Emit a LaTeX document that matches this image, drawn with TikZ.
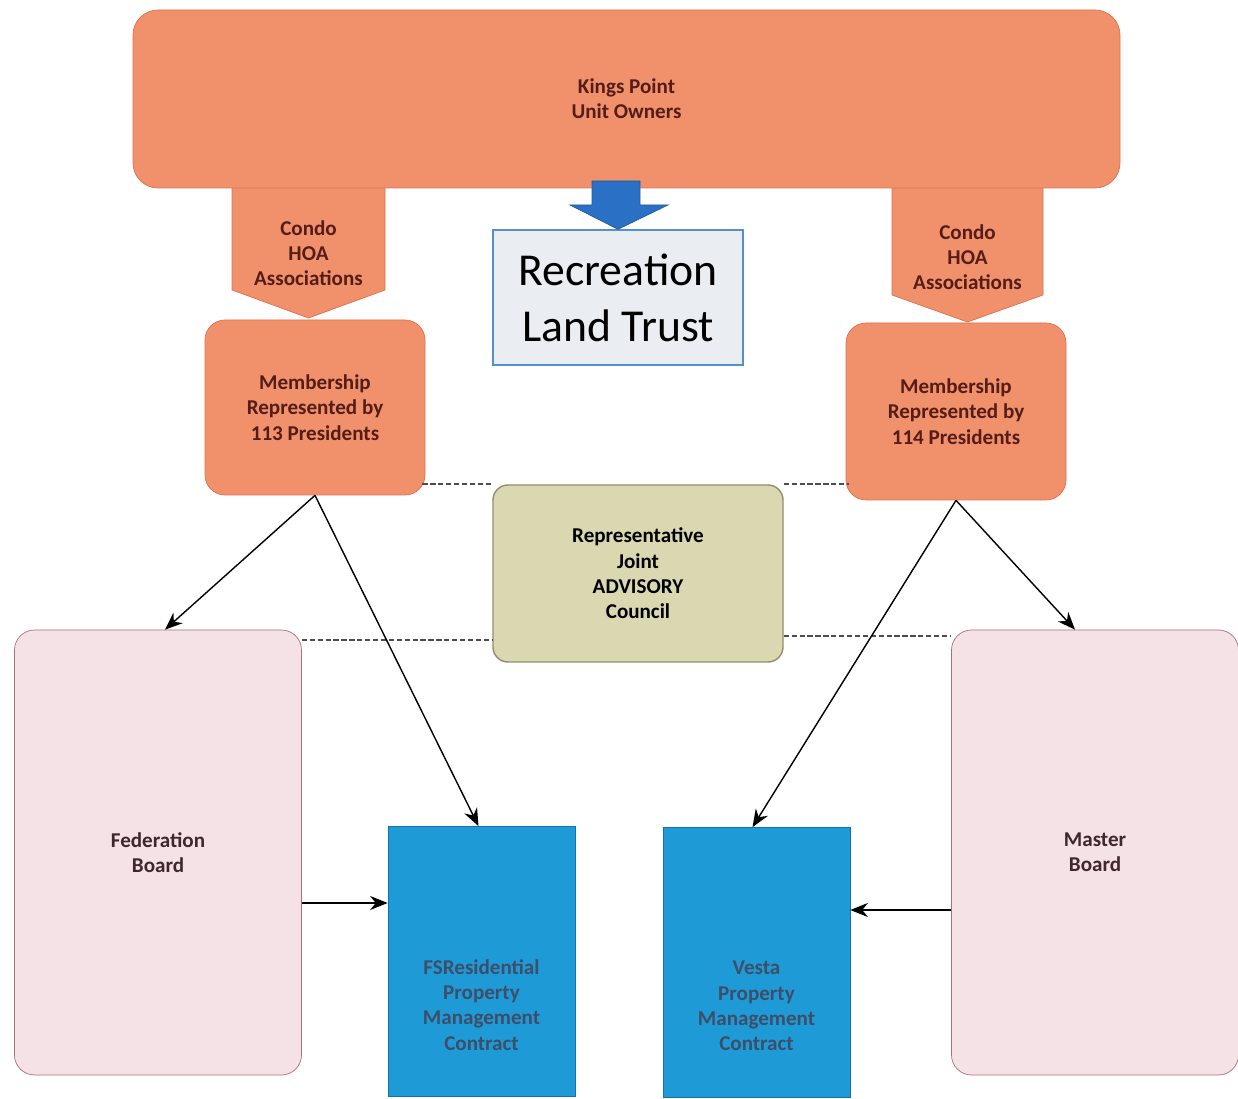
\documentclass[tikz,border=0pt]{standalone}
\usepackage{fontspec}
\setmainfont{Carlito}
\usepackage{xcolor}
\usetikzlibrary{shapes,arrows.meta,positioning,backgrounds}

\definecolor{ownerfill}{RGB}{240,145,108}
\definecolor{ownerline}{RGB}{222,112,78}
\definecolor{ownertext}{RGB}{85,28,24}
\definecolor{trustblue}{RGB}{42,112,196}
\definecolor{trustfill}{RGB}{234,238,243}
\definecolor{trustline}{RGB}{86,144,204}
\definecolor{councilfill}{RGB}{218,216,176}
\definecolor{councilline}{RGB}{145,140,112}
\definecolor{boardfill}{RGB}{244,226,230}
\definecolor{boardline}{RGB}{172,112,122}
\definecolor{boardtext}{RGB}{62,40,46}
\definecolor{pmfill}{RGB}{30,155,215}
\definecolor{pmline}{RGB}{22,112,172}
\definecolor{pmtext}{RGB}{62,78,104}

\begin{document}
\begin{tikzpicture}[
  box/.style={rectangle, draw, align=center, font=\bfseries\fontsize{12}{14.4}\selectfont},
  orangebox/.style={box, fill=ownerfill, draw=ownerline, text=ownertext, rounded corners=0.4cm},
  chevron/.style={fill=ownerfill, draw=ownerline},
  board/.style={box, fill=boardfill, draw=boardline, text=boardtext, rounded corners=0.4cm, minimum width=5.74cm, minimum height=8.9cm},
  pmbox/.style={box, fill=pmfill, draw=pmline, minimum width=3.74cm, minimum height=5.4cm},
  pmlabel/.style={align=center, text=pmtext, font=\bfseries\fontsize{12}{14.4}\selectfont},
  arrow/.style={-{Stealth[length=10pt,width=8pt]},thick},
  dashline/.style={draw=black!70, dash pattern=on 3pt off 1.5pt, line width=1pt}
]
\useasboundingbox (0,0) rectangle (24.76,-21.98);

% Condo HOA chevrons (under the top box)
\draw[chevron] (4.64,-3.6) -- (7.70,-3.6) -- (7.70,-5.8) -- (6.17,-6.36) -- (4.64,-5.8) -- cycle;
\draw[chevron] (17.84,-3.6) -- (20.86,-3.6) -- (20.86,-5.9) -- (19.35,-6.44) -- (17.84,-5.9) -- cycle;
\node[box, draw=none, text=ownertext] (condoL) at (6.17,-5.06) {Condo\\HOA\\Associations};
\node[box, draw=none, text=ownertext] (condoR) at (19.35,-5.14) {Condo\\HOA\\Associations};

% Owners
\node[orangebox, rounded corners=0.5cm, minimum width=19.74cm, minimum height=3.56cm] (owners) at (12.53,-1.98) {Kings Point\\Unit Owners};

% Trust
\node[box, fill=trustfill, draw=trustline, thick, font=\fontsize{26}{32}\selectfont, minimum width=5cm, minimum height=2.7cm] (trust) at (12.36,-5.95) {Recreation\\Land Trust};
\draw[fill=trustblue, draw=trustblue!80!black] (11.84,-3.62) -- (12.80,-3.62) -- (12.80,-4.1) -- (13.36,-4.1)
  -- (trust.north) -- (11.4,-4.1) -- (11.84,-4.1) -- cycle;

% Membership
\node[orangebox, minimum width=4.4cm, minimum height=3.5cm] (memL) at (6.3,-8.15) {Membership\\Represented by\\113 Presidents};
\node[orangebox, minimum width=4.4cm, minimum height=3.54cm] (memR) at (19.12,-8.23) {Membership\\Represented by\\114 Presidents};

% Council
\node[box, fill=councilfill, draw=councilline, thick, rounded corners=0.3cm, minimum width=5.8cm, minimum height=3.54cm] (council) at (12.76,-11.47) {Representative\\Joint\\ADVISORY\\Council};

% Boards
\node[board] (fedboard) at (3.16,-17.05) {Federation\\Board};
\node[board] (masterboard) at (21.9,-17.05) {Master\\Board};

% Management contracts
\node[pmbox] (fsres) at (9.63,-19.23) {};
\node[pmbox] (vesta) at (15.13,-19.25) {};
\node[pmlabel] at ([yshift=-0.87cm]fsres.center) {FSResidential\\Property\\Management\\Contract};
\node[pmlabel] at ([yshift=-0.87cm]vesta.center) {Vesta\\Property\\Management\\Contract};

% Dashed links
\draw[dashline] ([xshift=-0.06cm]memL.east |- council.north) -- (council.north west);
\draw[dashline] (council.north east) -- ([xshift=0.06cm]memR.west |- council.north);
\draw[dashline] ([yshift=-0.2cm]fedboard.north east) -- ([yshift=-0.2cm]fedboard.north east -| council.west);
\draw[dashline] ([yshift=-0.12cm]masterboard.north west -| council.east) -- ([yshift=-0.12cm]masterboard.north west);

% Arrows
\draw[arrow] (memL.south) -- ([xshift=0.14cm]fedboard.north);
\draw[arrow] (memL.south) -- ([xshift=-0.06cm]fsres.north);
\draw[arrow] (memR.south) -- ([xshift=-0.4cm]masterboard.north);
\draw[arrow] (memR.south) -- ([xshift=-0.08cm]vesta.north);
\draw[arrow] ([yshift=-1.01cm]fedboard.east) -- ([yshift=-1.01cm]fedboard.east -| fsres.west);
\draw[arrow] ([yshift=-1.15cm]masterboard.west) -- ([yshift=-1.15cm]masterboard.west -| vesta.east);

\end{tikzpicture}
\end{document}
